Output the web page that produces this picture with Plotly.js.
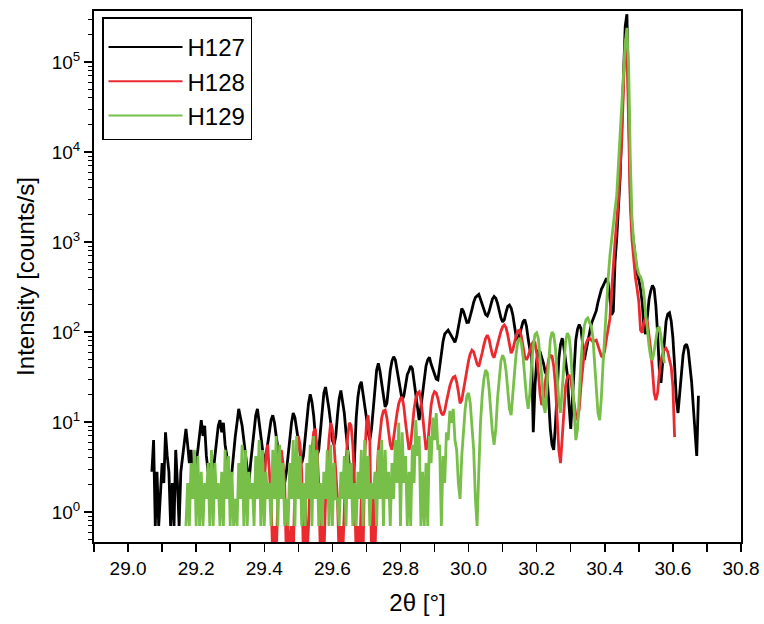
<!DOCTYPE html>
<html>
<head>
<meta charset="utf-8">
<script src="https://cdn.plot.ly/plotly-3.0.1.min.js"></script>
<style>html,body{margin:0;padding:0;background:#fff;}#chart{width:764px;height:624px;}</style>
</head>
<body>
<div id="chart"></div>
<script>
// Scan parameters (2theta start of each scan and common step, degrees)
const STEP = 0.005;
const H127_START = 29.07;
const H128_START = 29.40;
const H129_START = 29.17;

const seriesNames = ['H127', 'H128', 'H129'];

// Intensities [counts/s]
const H127 = [
2.8,6.3,0.7,2.8,0.7,1.4,3.5,2.1,7.7,4.2,
2.8,0.7,2.1,0.7,4.9,2.1,0.7,2.8,4.2,6.3,
8.4,5.6,3.5,4.9,2.1,1.4,3.5,4.9,7.7,10.5,
7.0,9.1,4.2,2.8,3.5,1.4,2.8,4.2,6.3,9.1,
10.5,7.7,9.8,5.6,4.2,2.1,1.4,2.8,4.9,7.0,
9.8,14.0,11.2,9.1,6.3,4.2,2.8,2.1,3.5,5.6,
7.7,11.9,14.0,10.5,7.0,4.9,3.5,4.2,5.6,7.7,
10.5,11.9,9.8,7.0,4.9,3.5,2.8,2.8,2.1,2.8,
4.2,7.0,9.8,12.6,11.2,8.4,6.3,4.9,3.5,4.2,
7.0,11.2,16.1,20.3,16.8,11.9,7.7,4.2,4.9,8.4,
14.7,21,24.5,18.9,14.0,9.8,6.3,5.6,7.0,11.9,
18.2,22.4,17.5,12.6,7.7,4.9,2.8,2.1,1.4,4.9,
11.2,18.9,25.2,28,21,15.4,11.2,7.7,6.3,8.4,
14.7,25.2,37.8,44.8,36.4,26.6,19.6,14.7,16.1,25.2,
37.1,47.6,53.2,49,37.8,28.7,21,17.5,19.6,26.6,
33.6,37.1,42,39.2,28,19.6,13.3,10.5,14.7,21.7,
32.2,42,49,52.5,44.1,38.5,33.6,30.1,29.4,42,
60.2,78.4,95.2,100.1,105,97.3,89.6,81.2,77,88.9,
112,145.6,182,170.1,149.8,127.4,128.1,148.4,178.5,214.2,
241.5,252,261.8,231,198.8,173.6,156.8,151.2,168,198.1,
232.4,248.5,238,207.9,170.1,144.2,129.5,137.2,165.2,192.5,
199.5,184.8,154,114.8,86.8,79.8,93.1,114.1,130.2,137.2,
116.2,84,63.7,60.9,7.7,25,48,63,60,52,
45,36,33,18,8.4,5.6,4.9,9.1,23.8,50.4,
72.8,85.4,67.2,44.1,33.6,15.4,8.4,18.2,44.8,81.9,
107.8,121.1,109.2,72.1,49,62.3,79.8,95.2,120.4,137.2,
155.4,172.9,214.2,258.3,298.2,326.2,367.5,396.2,351.4,226.8,
155.4,170,600,1100,2200,5200,20000,85000,250000,340000,
30000,3500,1400,900,650,450,380,300,210,110,
95,168,231,287,329,301,196,98,39.2,27.3,
44.8,86.8,131.6,158.2,163.8,133,86.8,42,18.2,12.6,
19.6,35.7,56,70,73.5,63,44.8,28,14.7,7.0,
4.2,19.6
];

const H128 = [
2.1,4.2,5.6,2.8,1.4,0.3,0.7,0.3,1.4,2.8,
4.9,3.5,2.1,0.3,0.7,0.3,0.7,0.3,2.1,4.2,
7.0,5.6,2.8,0.3,1.4,0.3,0.7,2.8,4.9,7.7,
8.4,4.9,2.1,0.3,0.7,0.3,1.4,3.5,6.3,9.8,
8.4,5.6,2.8,1.4,0.3,0.7,0.3,1.4,3.5,7.0,
9.8,9.1,5.6,2.1,0.3,0.7,0.3,1.4,0.3,4.2,
9.1,11.9,6.3,0.3,1.4,0.3,2.1,4.9,7.7,11.2,
13.3,13.6,11.2,8.4,5.6,4.9,7.0,9.8,12.6,16.1,
18.2,18.9,14.7,9.8,6.3,4.9,5.6,9.1,14.0,18.2,
21.0,21.7,17.5,11.9,7.7,4.9,5.6,9.8,15.4,19.6,
21.7,21.0,18.2,14.7,12.6,11.9,13.3,16.8,21.0,25.2,
28.7,31.5,32.2,28.0,21.7,16.1,17.5,23.1,30.8,39.2,
48.3,57.4,63.0,60.2,51.8,44.1,41.3,48.3,58.8,72.1,
84.7,92.4,84.0,67.9,56.0,51.8,60.2,72.8,86.8,102.2,
114.1,119.7,112.0,93.1,72.1,58.1,63.7,77.0,92.4,102.9,
105.0,89.6,68.6,53.2,49.0,53.9,62.3,72.8,77.7,76.3,
58.1,35.0,20.3,15.4,18.9,27.3,39.2,49.7,55.3,53.9,
42.0,25.9,11.2,4.9,3.5,6.3,14.7,25.2,31.5,33.6,
29.4,21.7,15.4,11.9,10.5,14.0,25.2,42.0,60.2,74.2,
82.6,85.4,81.2,78.4,79.8,81.2,70.7,60.9,53.9,52.5,
63.0,84.7,112.0,140.0,280,600,1000,1700,2900,6500,
13600,55000,180000,160000,25000,2500,1050,600,400,300,
215,105,98,130,143,130,95,63,38,21,
17.5,21,34,48,58,64,66,60,49,41,
25,6.8
];

const H129 = [
0.7,2.1,0.7,3.5,1.4,4.9,0.7,4.2,0.7,2.8,
0.7,2.1,1.4,3.5,0.7,4.9,0.7,3.5,1.4,2.1,
0.7,2.8,0.7,4.9,1.4,4.2,0.7,2.8,0.7,1.4,
0.7,3.5,1.4,5.6,0.7,4.9,0.7,2.8,1.4,2.1,
0.7,4.2,1.4,6.3,0.7,4.9,0.7,2.8,1.4,2.1,
0.7,4.9,1.4,7.0,0.7,5.6,1.4,3.5,0.7,1.4,
0.7,3.5,1.4,6.3,0.7,7.0,1.4,4.2,0.7,2.1,
0.7,3.5,1.4,5.6,0.7,7.0,1.4,4.9,0.7,2.1,
0.7,2.8,1.4,4.9,0.7,5.6,0.7,3.5,1.4,1.4,
0.7,2.8,1.4,4.2,0.7,4.9,1.4,3.5,0.7,2.1,
0.7,2.8,1.4,4.9,0.7,6.3,1.4,4.2,0.7,2.1,
1.4,2.8,0.7,4.9,1.4,6.3,0.7,4.9,1.4,2.8,
0.7,3.5,1.4,6.3,2.1,9.8,0.7,7.7,2.1,4.2,
0.7,2.8,0.7,5.6,2.1,10.5,4.2,7.0,0.7,2.8,
0.7,3.5,0.7,7.0,3.5,11.2,6.3,12.6,4.9,5.6,
0.7,4.2,2.1,7.7,6.3,13.3,9.8,14.0,6.3,4.9,
2.1,1.4,4.2,8.4,14.0,19.6,21.0,16.1,9.1,4.9,
1.4,0.7,2.8,9.8,19.6,30.1,37.8,35.0,23.8,13.3,
7.7,5.6,8.4,18.2,32.2,47.6,55.3,49.7,37.1,23.8,
14.0,11.9,18.9,35.7,58.8,79.8,86.1,74.2,53.2,30.8,
18.9,14.0,21.0,42.0,70.7,93.8,98.0,84.0,56.0,31.5,
15.4,12.6,23.8,48.3,81.9,100.1,93.8,66.5,35.7,16.8,
12.6,23.1,46.2,79.1,97.3,89.6,60.2,30.1,11.9,6.3,
8.4,21.0,46.9,84.0,117.6,137.2,143.5,128.8,116.2,88.2,
49.7,23.8,12.6,10.5,18.9,45.5,105,210,400,700,
1100,1600,2300,3300,7000,14000,30000,70000,160000,240000,
90000,8000,1800,1000,700,520,440,410,360,260,
160,100,70,52,49,62,88,110,112,90,
62,45
];

// Axis ticks
const xTickLabelsEvery = 0.2;
const yTickVals = [1, 10, 100, 1000, 10000, 100000];
const yTickText = ['10<sup>0</sup>','10<sup>1</sup>','10<sup>2</sup>','10<sup>3</sup>','10<sup>4</sup>','10<sup>5</sup>'];
const yMinorVals = [];
for (let d = -1; d <= 5; d++) {
  for (let m = 2; m <= 9; m++) {
    const v = m * Math.pow(10, d);
    if (v > 0.46 && v < 3.7e5) yMinorVals.push(v);
  }
}

const colors = ['#000000', '#ea2a2f', '#77bf48'];
const starts = [H127_START, H128_START, H129_START];
const values = [H127, H128, H129];

const traces = [];
// data traces (thick, noisy look), drawn H127, H128, H129 so green is on top
for (let k = 0; k < 3; k++) {
  traces.push({type:'scatter', mode:'lines', name:seriesNames[k], legendgroup:seriesNames[k],
    x0:starts[k], dx:STEP, y:values[k], showlegend:false,
    line:{color:colors[k], width:2.8}});
}
// legend entries with the thinner sample line of the reference
for (let k = 0; k < 3; k++) {
  traces.push({type:'scatter', mode:'lines', name:seriesNames[k], legendgroup:seriesNames[k],
    x:[null], y:[null], showlegend:true, hoverinfo:'skip',
    line:{color:colors[k], width:2}});
}

const FONT = 'Arial, "Liberation Sans", Helvetica, sans-serif';

const layout = {
  width: 764, height: 624,
  margin: {l: 94, r: 23, t: 11, b: 82},
  paper_bgcolor: '#ffffff', plot_bgcolor: '#ffffff',
  font: {family: FONT, color: '#000000', size: 19},
  showlegend: true,
  legend: {
    x: 0.0124, y: 0.9887, xanchor: 'left', yanchor: 'top',
    bordercolor: '#000000', borderwidth: 1.5, bgcolor: '#ffffff',
    font: {family: FONT, size: 24, color: '#000000'},
    itemwidth: 74, tracegroupgap: 0,
    title: {text: '&nbsp;', font: {size: 5}}
  },
  xaxis: {
    range: [28.9, 30.8], tick0: 29.0, dtick: xTickLabelsEvery, tickformat: '.1f',
    ticks: 'outside', ticklen: 8, tickwidth: 1.5, tickcolor: '#000000',
    showline: true, linewidth: 2, linecolor: '#000000', mirror: true,
    showgrid: false, zeroline: false,
    tickfont: {family: FONT, size: 19, color: '#000000'},
    minor: {tick0: 28.9, dtick: 0.1, ticks: 'outside', ticklen: 8, tickwidth: 1.5, tickcolor: '#000000', showgrid: false},
    title: {text: '2θ [°]', font: {family: FONT, size: 24, color: '#000000'}, standoff: 16}
  },
  yaxis: {
    type: 'log', range: [-0.333, 5.567],
    tickmode: 'array', tickvals: yTickVals, ticktext: yTickText,
    ticks: 'outside', ticklen: 8, tickwidth: 1.5, tickcolor: '#000000',
    showline: true, linewidth: 2, linecolor: '#000000', mirror: true,
    showgrid: false, zeroline: false,
    tickfont: {family: FONT, size: 19, color: '#000000'},
    minor: {tickmode: 'array', tickvals: yMinorVals, ticks: 'outside', ticklen: 4, tickwidth: 1, tickcolor: '#000000', showgrid: false},
    title: {text: 'Intensity [counts/s]', font: {family: FONT, size: 24, color: '#000000'}, standoff: 10}
  }
};

Plotly.newPlot('chart', traces, layout, {staticPlot: true, displayModeBar: false});
</script>
</body>
</html>
